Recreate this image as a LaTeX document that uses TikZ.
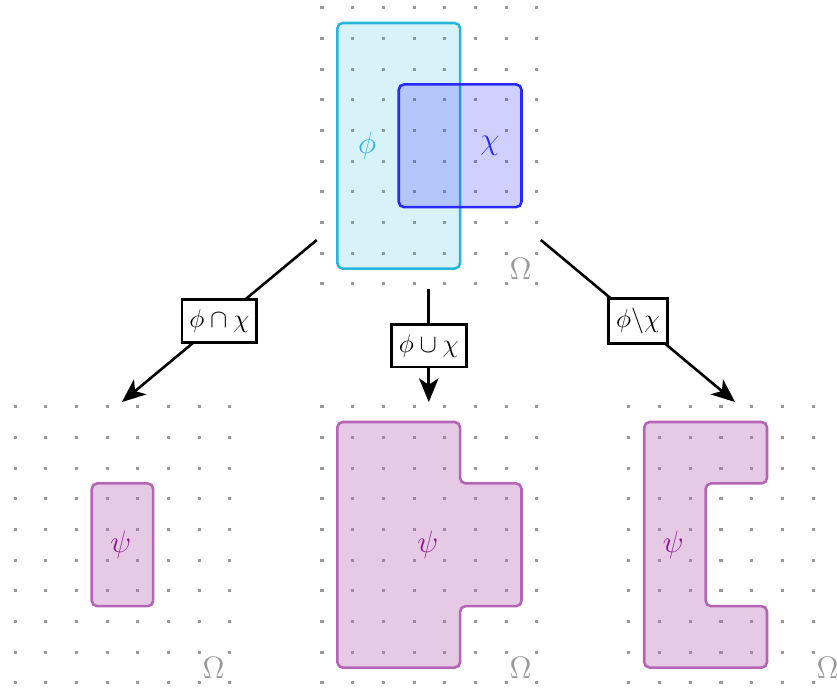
\documentclass[tikz,border=0pt]{standalone}
\usepackage{tikz}
\usetikzlibrary{calc}
\usetikzlibrary{arrows.meta}
\definecolor{philine}{HTML}{29B5DB}
\definecolor{chiline}{HTML}{2A2AFF}
\definecolor{psiline}{HTML}{B565B5}
\definecolor{psitext}{HTML}{8B1A8B}
\definecolor{dotgray}{HTML}{999999}
\tikzstyle{griddot} = [fill=dotgray]
\tikzstyle{setregion} = [line width=1.2pt, rounded corners=2.5pt]
\tikzstyle{phiset} = [setregion, draw=philine, fill=philine, fill opacity=0.18]
\tikzstyle{chiset} = [setregion, draw=chiline, fill=chiline, fill opacity=0.22]
\tikzstyle{psiset} = [setregion, draw=psiline, fill=psiline, fill opacity=0.35]
\tikzstyle{setlabel} = [font=\Large, inner sep=1pt]
\tikzstyle{omeganode} = [setlabel, text=dotgray]
\tikzstyle{opbox} = [draw, fill=white, line width=1.3pt, font=\large, inner xsep=3.5pt, inner ysep=4.5pt]
\tikzstyle{oparrow} = [line width=1.2pt, -{Stealth[length=11pt, width=9pt, inset=3pt]}]

\begin{document}
\begin{tikzpicture}[x=0.5cm, y=0.5cm]
    \useasboundingbox (-0.49,-0.2) rectangle (26.78,22.25);

    % the four universes
    \foreach \gx/\gy/\gname in {10/13/top, 0/0/inter, 10/0/union, 20/0/diff} {
        \coordinate (\gname) at (\gx,\gy);
        \foreach \i in {0,...,7}
            \foreach \j in {0,...,9}
                \fill[griddot] ($(\gname)+(\i,\j)+(-0.05,-0.05)$) rectangle ++(0.1,0.1);
        \node[omeganode] (omega_\gname) at ($(\gname)+(6.47,0.5)$) {$\Omega$};
    }

    % phi and chi
    \draw[phiset] ($(top)+(0.5,0.5)$) rectangle ($(top)+(4.5,8.5)$);
    \draw[chiset] ($(top)+(2.5,2.5)$) rectangle ($(top)+(6.5,6.5)$);
    \node[setlabel, text=philine] (top_phi) at ($(top)+(1.47,4.5)$) {$\phi$};
    \node[setlabel, text=chiline] (top_chi) at ($(top)+(5.47,4.5)$) {$\chi$};

    % results
    \draw[psiset] ($(inter)+(2.5,2.5)$) rectangle ($(inter)+(4.5,6.5)$);
    \node[setlabel, text=psitext] (inter_psi) at ($(inter)+(3.45,4.5)$) {$\psi$};

    \draw[psiset] ($(union)+(0.5,0.5)$) -- ++(4,0) -- ++(0,2) -- ++(2,0)
        -- ++(0,4) -- ++(-2,0) -- ++(0,2) -- ++(-4,0) -- cycle;
    \node[setlabel, text=psitext] (union_psi) at ($(union)+(3.45,4.5)$) {$\psi$};

    \draw[psiset] ($(diff)+(0.5,0.5)$) -- ++(4,0) -- ++(0,2) -- ++(-2,0)
        -- ++(0,4) -- ++(2,0) -- ++(0,2) -- ++(-4,0) -- cycle;
    \node[setlabel, text=psitext] (diff_psi) at ($(diff)+(1.45,4.5)$) {$\psi$};

    % operations
    \coordinate (top_left) at ($(top)+(-0.17,1.43)$);
    \coordinate (top_mid) at ($(top)+(3.48,-0.18)$);
    \coordinate (top_right) at ($(top)+(7.13,1.43)$);
    \coordinate (inter_tip) at ($(inter)+(3.48,9.15)$);
    \coordinate (union_tip) at ($(union)+(3.48,9.15)$);
    \coordinate (diff_tip) at ($(diff)+(3.46,9.15)$);

    \draw[oparrow] (top_left) -- node[opbox] (op_inter) {$\phi\cap\chi$} (inter_tip);
    \draw[oparrow] (top_mid) -- node[opbox] (op_union) {$\phi\cup\chi$} (union_tip);
    \draw[oparrow] (top_right) -- node[opbox] (op_diff) {$\phi\backslash\chi$} (diff_tip);
\end{tikzpicture}
\end{document}
